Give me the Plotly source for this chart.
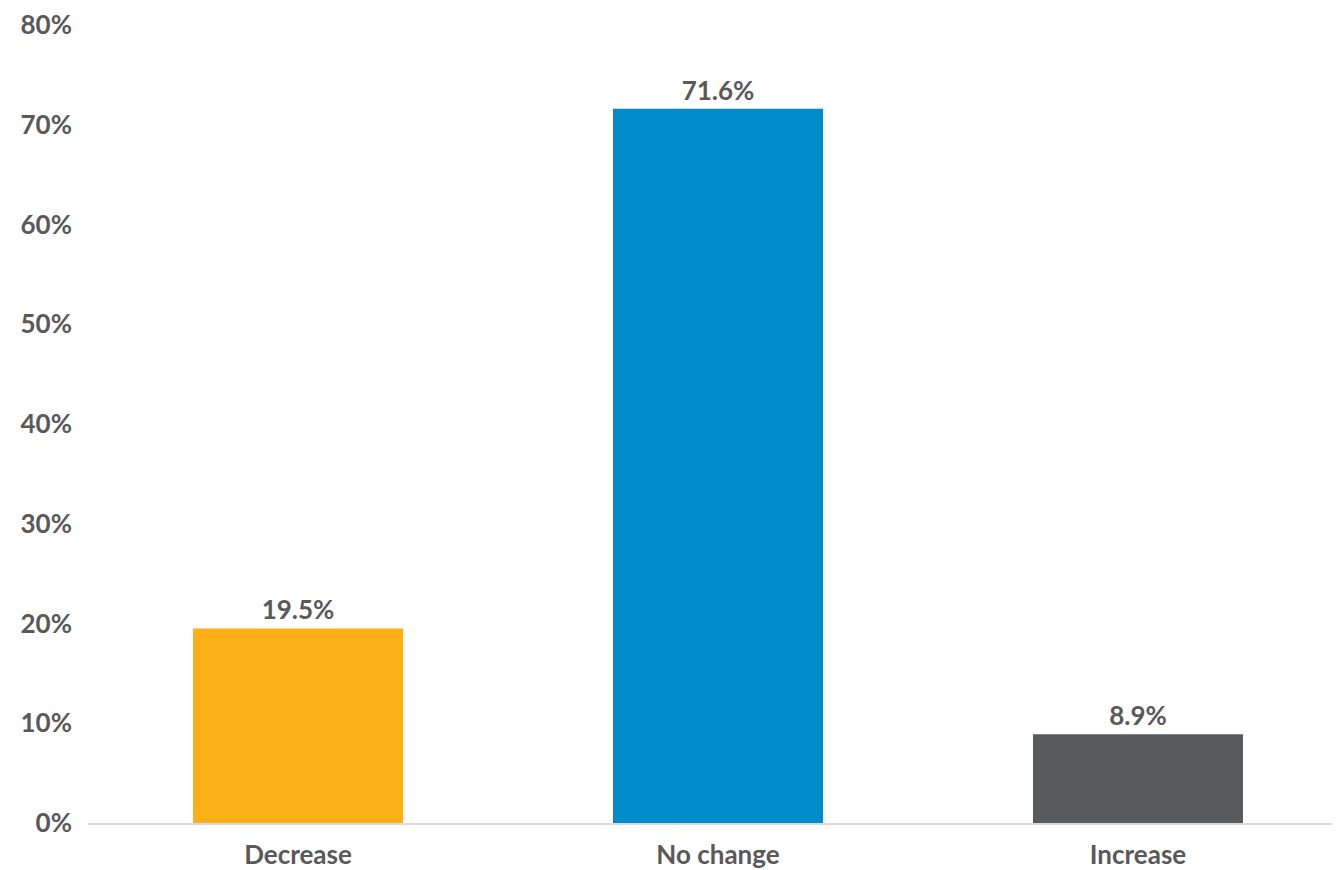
import plotly.graph_objects as go

categories = ["Decrease", "No change", "Increase"]
values = [19.5, 71.6, 8.9]
colors = ["#FBB116", "#008BCB", "#58595B"]
y_ticks = [0, 10, 20, 30, 40, 50, 60, 70, 80]
y_tick_labels = [f"{v}%" for v in y_ticks]

font_color = "#595959"
fam = "Lato, 'Open Sans', sans-serif"

fig = go.Figure(go.Bar(
    x=categories,
    y=values,
    marker=dict(color=colors, line=dict(width=0)),
    width=0.5,
    text=[f"{v:.1f}%" for v in values],
    textposition="outside",
    textfont=dict(family=fam, size=26, color=font_color, weight="bold"),
    cliponaxis=False,
))

fig.update_layout(
    width=1332, height=862,
    margin=dict(l=80, r=0, t=17, b=47, autoexpand=False),
    plot_bgcolor="white", paper_bgcolor="white",
    showlegend=False,
    xaxis=dict(
        range=[-0.5, 2.481],
        showgrid=False, zeroline=False,
        showline=True, linecolor="#D9D9D9", linewidth=2,
        ticks="",
        tickfont=dict(family=fam, size=26, color=font_color, weight="bold"),
        ticklabelstandoff=8,
    ),
    yaxis=dict(
        range=[0, 80],
        tickvals=y_ticks, ticktext=y_tick_labels,
        showgrid=False, zeroline=False, showline=False,
        ticks="",
        tickfont=dict(family=fam, size=26, color=font_color, weight="bold"),
        ticklabelstandoff=15,
    ),
)

fig.write_html("out.html")
